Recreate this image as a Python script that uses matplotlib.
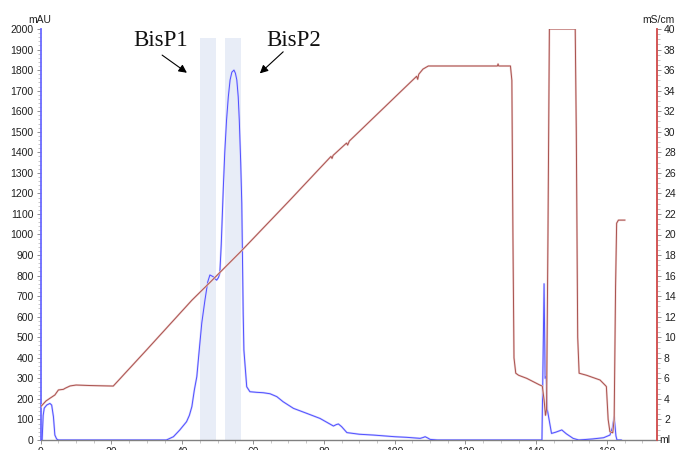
import matplotlib
matplotlib.use("Agg")
import matplotlib.pyplot as plt
from matplotlib.ticker import MultipleLocator, FuncFormatter

# UV absorbance trace (ml, mAU)
uv_ml = [0, 0.4, 0.7, 1.0, 1.7, 2.6, 3.1, 3.6, 4.0, 4.5, 5.0, 35.5, 37.5, 39.3, 41.2,
         42.0, 42.7, 43.4, 44.1, 44.8, 45.5, 46.4, 47.2, 47.8, 48.7, 49.2, 49.7, 50.2,
         50.6, 51.0, 51.6, 52.0, 52.5, 53.0, 53.5, 54.0, 54.6, 55.0, 55.4, 55.8, 56.1,
         56.5, 56.8, 57.2, 57.4, 58.2, 59.1, 61.0, 62.9, 64.8, 66.7, 68.5, 71.4, 75.1,
         78.9, 82.7, 83.5, 84.1, 85.0, 86.5, 90.0, 94.0, 100.0, 103.4, 107.2, 108.0,
         108.6, 109.3, 110.0, 112.0, 141.6, 142.0, 142.2, 142.5, 142.8, 143.1, 144.3,
         145.5, 146.6, 147.2, 148.5, 150.4, 152.0, 155.8, 159.0, 160.8, 161.5, 162.0,
         162.5, 162.8, 164.0]
uv_mau = [0, 0, 120, 155, 170, 178, 170, 113, 24, 5, 0, 0, 16, 49, 89,
          120, 162, 243, 308, 440, 569, 681, 770, 803, 795, 785, 778, 790,
          811, 950, 1232, 1400, 1557, 1670, 1752, 1790, 1800, 1785, 1752, 1670, 1557,
          1350, 1153, 618, 438, 259, 235, 232, 230, 225, 211, 186, 154, 130,
          105, 68, 75, 78, 65, 36, 28, 24, 16, 13, 8, 12,
          16, 10, 3, 0, 0, 500, 760, 300, 310, 150, 32,
          38, 45, 49, 30, 8, 0, 5, 11, 24, 60, 113,
          20, 0, 0]

# Conductivity trace (ml, mS/cm)
cond_ml = [0, 0.7, 1.5, 2.6, 4.0, 5.0, 6.4, 7.0, 8.3, 10.0, 14.0, 20.5, 30.0, 42.7,
           48.0, 56.4, 70.0, 82.0, 82.3, 82.6, 86.4, 86.7, 87.2, 106.2, 106.5, 106.8,
           108.0, 109.5, 129.0, 129.2, 129.4, 132.7, 133.1, 133.4, 133.7, 134.2, 135.0,
           137.3, 141.0, 141.7, 142.2, 142.6, 142.9, 143.3, 143.7, 151.0, 151.3, 151.7,
           152.1, 154.2, 158.0, 159.4, 159.8, 160.3, 160.8, 161.6, 162.0, 162.4, 162.7,
           163.2, 165.0]
cond_ms = [3.24, 3.5, 3.8, 4.06, 4.38, 4.87, 4.93, 5.05, 5.26, 5.35, 5.3, 5.25, 8.8, 13.6,
           15.4, 18.3, 23.2, 27.6, 27.4, 27.7, 28.9, 28.7, 29.1, 35.4, 35.1, 35.6,
           36.1, 36.4, 36.4, 36.6, 36.4, 36.4, 35.0, 20.0, 8.0, 6.5, 6.3,
           6.0, 5.35, 5.25, 3.9, 2.4, 3.0, 20.0, 40.0, 40.0, 30.0, 10.0,
           6.5, 6.3, 5.84, 5.35, 5.2, 2.0, 0.8, 0.7, 2.0, 15.0, 21.1,
           21.4, 21.4]

# Collected fractions (ml ranges) and their labels
fraction_names = ["BisP1", "BisP2"]
fraction_ranges = [(45.0, 49.5), (52.1, 56.5)]

fig = plt.figure(figsize=(6.89, 4.5), dpi=100)
ax = fig.add_axes([40.7 / 689, 10 / 450, (657 - 40.7) / 689, (440 - 29) / 450])
ax2 = ax.twinx()

# Fraction shading
for lo, hi in fraction_ranges:
    ax.axvspan(lo, hi, ymin=0, ymax=1955 / 2000, color="#e8edf7", lw=0, zorder=0)

ax.plot(uv_ml, uv_mau, color="#d4d4ff", lw=1.5, zorder=2, solid_joinstyle="round")
ax.plot(uv_ml, uv_mau, color="#5050ff", lw=0.7, zorder=3, solid_joinstyle="round")
ax2.plot(cond_ml, cond_ms, color="#efd2d2", lw=1.5, zorder=2, solid_joinstyle="round")
ax2.plot(cond_ml, cond_ms, color="#a9524e", lw=0.7, zorder=3, solid_joinstyle="round")

ax.set_xlim(0, 174.1)
ax.set_ylim(0, 2000)
ax2.set_ylim(0, 40)

ax.xaxis.set_major_locator(MultipleLocator(20))
ax.xaxis.set_minor_locator(MultipleLocator(5))
ax.yaxis.set_major_locator(MultipleLocator(100))
ax.yaxis.set_minor_locator(MultipleLocator(20))
ax2.yaxis.set_major_locator(MultipleLocator(2))
ax2.yaxis.set_minor_locator(MultipleLocator(0.5))
# the right scale leaves its zero unlabeled (the volume unit sits there)
ax2.yaxis.set_major_formatter(FuncFormatter(lambda v, p: "" if v == 0 else f"{v:g}"))

for a in (ax, ax2):
    a.spines["top"].set_visible(False)
ax.spines["right"].set_visible(False)
ax2.spines["left"].set_visible(False)
ax2.spines["bottom"].set_visible(False)
ax.spines["left"].set_color("#6a6aff")
ax.spines["left"].set_linewidth(1.3)
ax2.spines["right"].set_color("#d04848")
ax2.spines["right"].set_linewidth(1.3)
ax.spines["bottom"].set_color("#808080")
ax.spines["bottom"].set_linewidth(1.0)

ax.tick_params(axis="both", which="major", length=3, width=0.7, color="#909090", pad=2)
ax.tick_params(axis="both", which="minor", length=2, width=0.5, color="#b0b0b0")
ax2.tick_params(axis="y", which="major", length=3, width=0.7, color="#909090", pad=2)
ax2.tick_params(axis="y", which="minor", length=2, width=0.5, color="#b0b0b0")

for lab in ax.get_xticklabels() + ax.get_yticklabels() + ax2.get_yticklabels():
    lab.set_fontfamily("Liberation Sans")
    lab.set_fontsize(7.5)
    lab.set_color("#202020")

# Unit labels
fig.text(40 / 689, 1 - 20 / 450, "mAU", ha="center", va="center",
         fontfamily="Liberation Sans", fontsize=7.5, color="#202020")
fig.text(658 / 689, 1 - 20 / 450, "mS/cm", ha="center", va="center",
         fontfamily="Liberation Sans", fontsize=7.5, color="#202020")
fig.text(659 / 689, 1 - 440 / 450, "ml", ha="left", va="center",
         fontfamily="Liberation Sans", fontsize=7.5, color="#202020")

# Fraction labels with pointer arrows
label_pos = [(33.8, 1942), (71.4, 1942)]
arrow_tail = [(34.3, 1873), (68.5, 1889)]
arrow_head = [(41.3, 1787), (61.9, 1784)]
for name, pos, tail, head in zip(fraction_names, label_pos, arrow_tail, arrow_head):
    ax.text(pos[0], pos[1], name, ha="center", va="center",
            fontfamily="Liberation Serif", fontsize=16.5, color="#111111")
    ax.annotate("", xy=head, xytext=tail,
                arrowprops=dict(arrowstyle="-|>", color="black", lw=0.8,
                                shrinkA=0, shrinkB=0, mutation_scale=12))

fig.savefig("out.png", dpi=100)
